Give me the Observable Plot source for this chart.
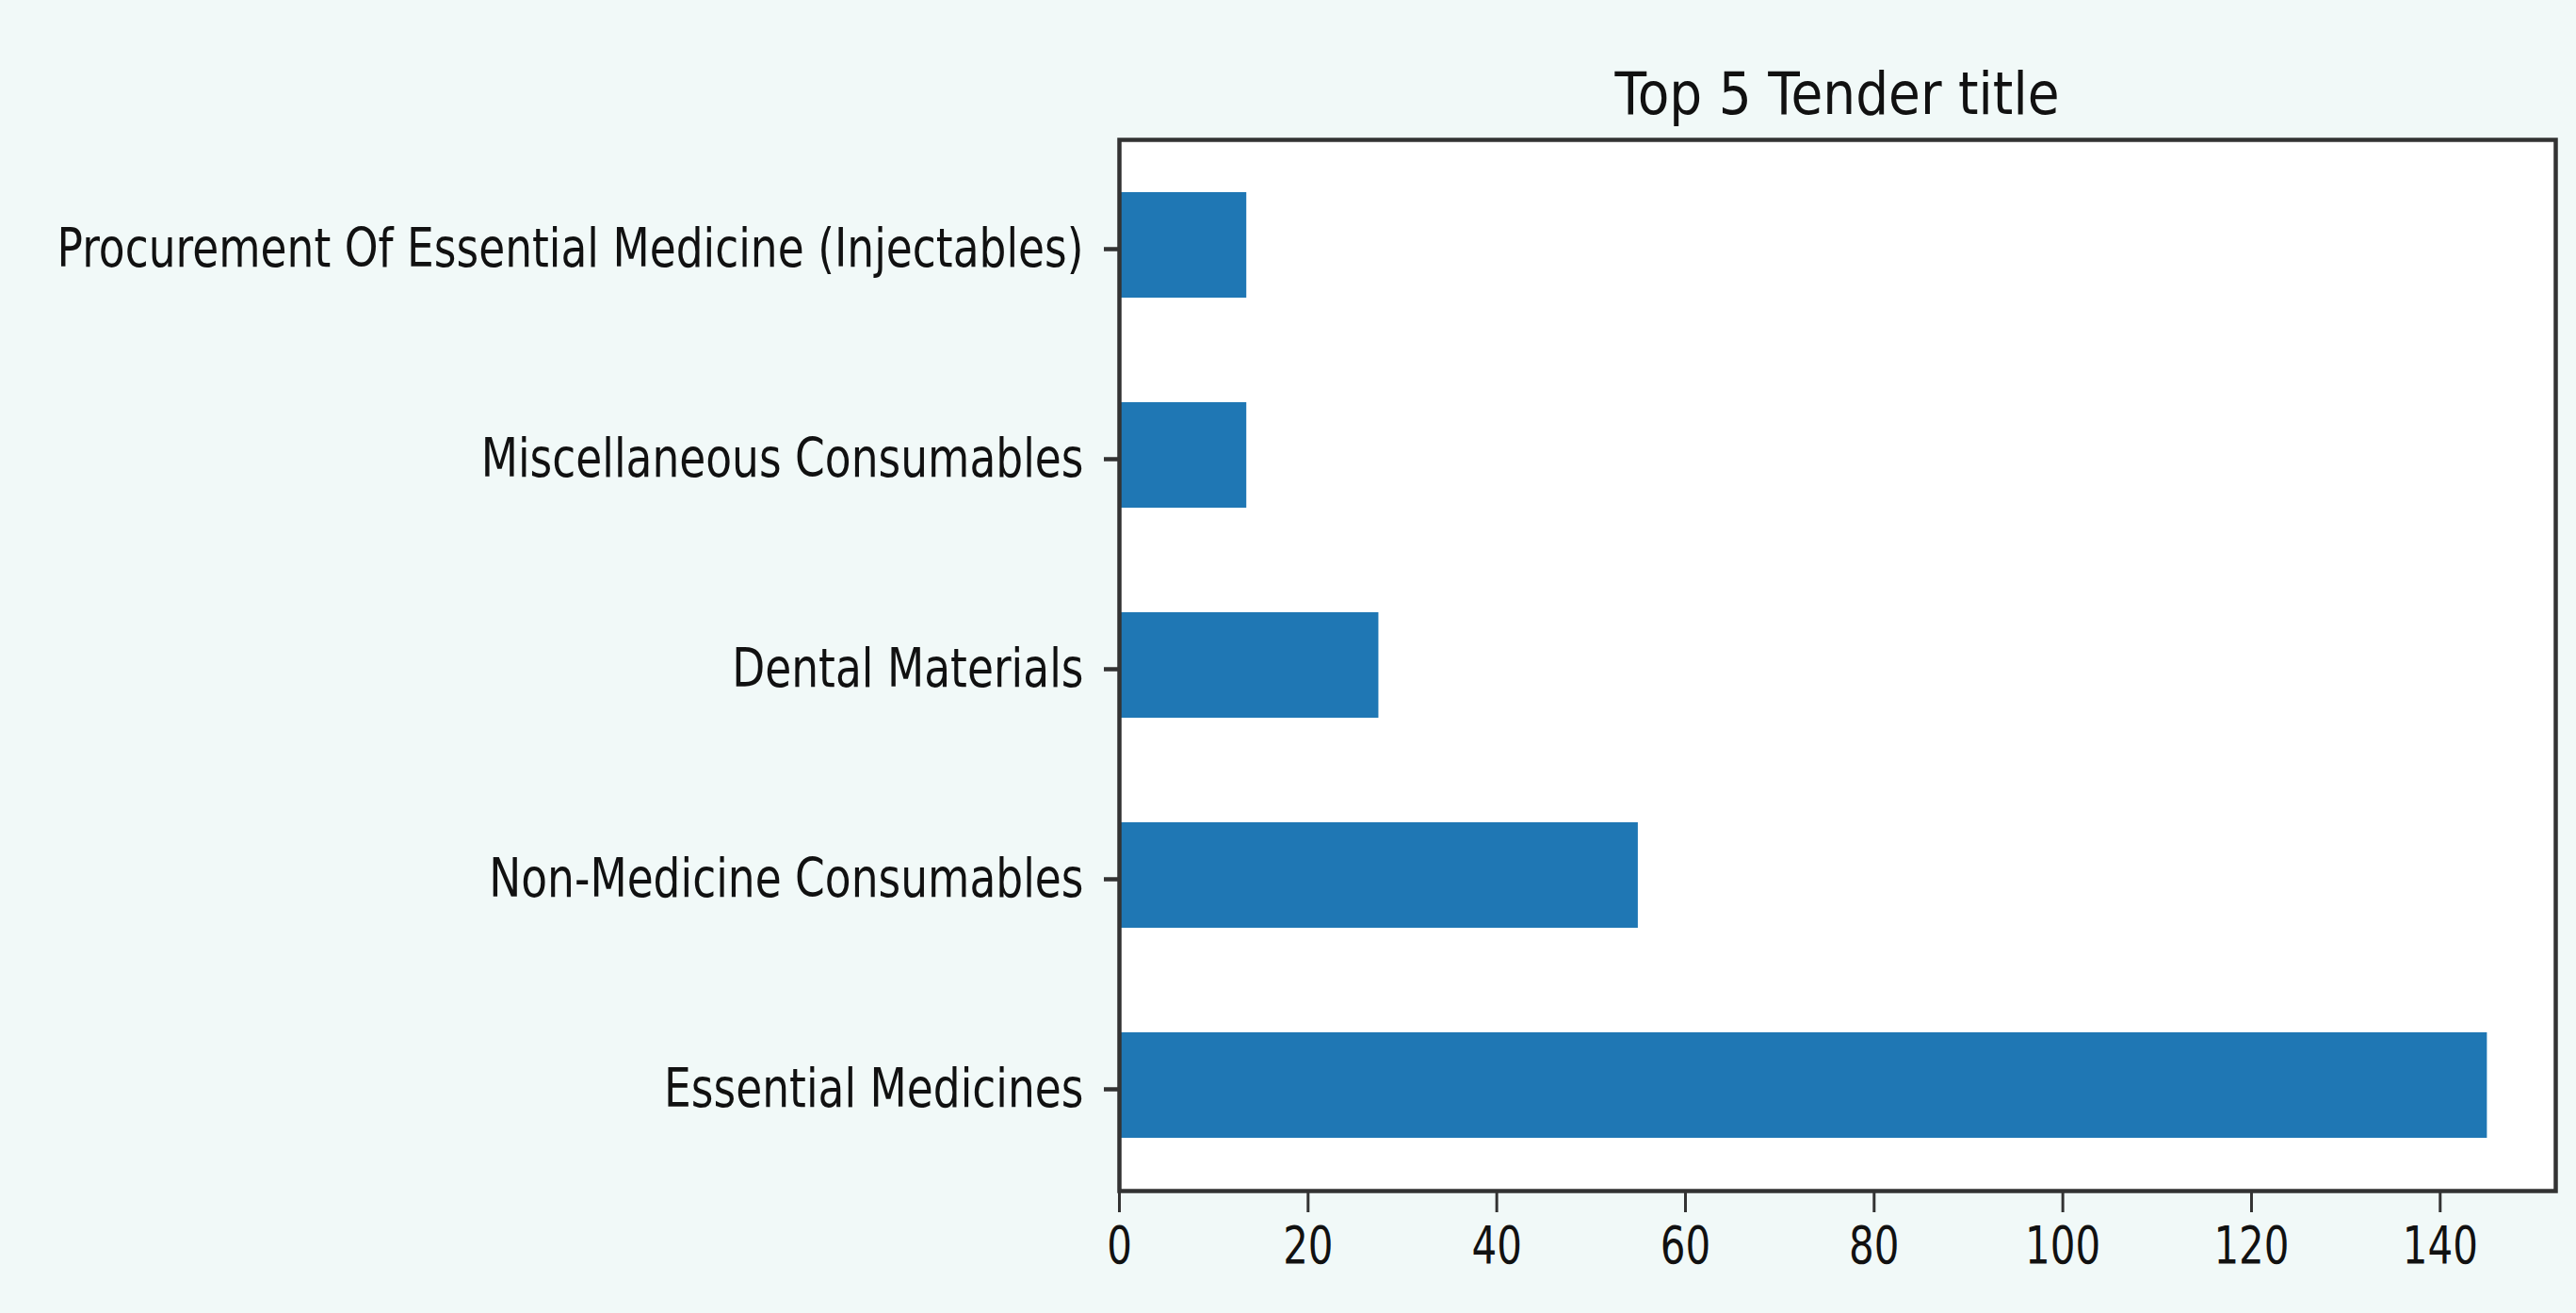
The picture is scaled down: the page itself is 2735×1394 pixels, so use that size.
<!DOCTYPE html>
<html>
<head>
<meta charset="utf-8">
<script src="https://cdn.jsdelivr.net/npm/d3@7"></script>
<script src="https://cdn.jsdelivr.net/npm/@observablehq/plot@0.6"></script>
<style>
  html, body { margin: 0; padding: 0; background: #f1f9f8; }
  #wrap { position: relative; width: 2735px; height: 1394px; overflow: hidden; }
  #title {
    position: absolute; left: 1188px; width: 1525px; top: 73px;
    text-align: center; font-family: "DejaVu Sans", sans-serif; font-size: 55px;
    line-height: 1; color: #111; transform: scaleY(1.13); transform-origin: 50% 50%;
  }
  #chart { position: absolute; left: 0; top: 130px; }
</style>
</head>
<body>
<div id="wrap">
  <div id="title">Top 5 Tender title</div>
  <div id="chart"></div>
</div>
<script>
// Data (top-to-bottom order as shown)
const categories = [
  "Procurement Of Essential Medicine (Injectables)",
  "Miscellaneous Consumables",
  "Dental Materials",
  "Non-Medicine Consumables",
  "Essential Medicines"
];
const values = [13.5, 13.5, 27.5, 55, 145];
const xTicks = [0, 20, 40, 60, 80, 100, 120, 140];

const data = categories.map((c, i) => ({category: c, value: values[i]}));

const svg = Plot.plot({
  width: 2735,
  height: 1264,
  marginLeft: 1188,
  marginRight: 22,
  marginTop: 18,
  marginBottom: 130,
  style: {background: "transparent", fontFamily: "DejaVu Sans, sans-serif", color: "#111", overflow: "visible"},
  x: {domain: [0, 152.25]},
  y: {domain: categories, paddingInner: 0.5, paddingOuter: 0.25},
  marks: [
    Plot.frame({fill: "white", stroke: null}),
    Plot.barX(data, {x: "value", y: "category", fill: "#1f77b4"}),
    Plot.frame({stroke: "#333", strokeWidth: 4.5}),
    Plot.axisX({ticks: xTicks, tickSize: 23, tickPadding: 19, stroke: "#333", strokeWidth: 3,
                fontSize: 42, label: null, tickFormat: d => String(d)}),
    Plot.axisY({tickSize: 16, tickPadding: 22, stroke: "#333", strokeWidth: 4.5,
                fontSize: 45.5, label: null, dy: 4})
  ]
});
document.getElementById("chart").append(svg);

// Stretch text vertically around its own centre to match the reference's tall glyphs
svg.querySelectorAll("text").forEach(t => {
  const k = t.closest('[aria-label="x-axis tick label"]') ? 1.3 : 1.24;
  const b = t.getBBox();
  const cy = b.y + b.height / 2;
  const prev = t.getAttribute("transform") || "";
  t.setAttribute("transform", `${prev} translate(0,${cy}) scale(1,${k}) translate(0,${-cy})`);
});
</script>
</body>
</html>
